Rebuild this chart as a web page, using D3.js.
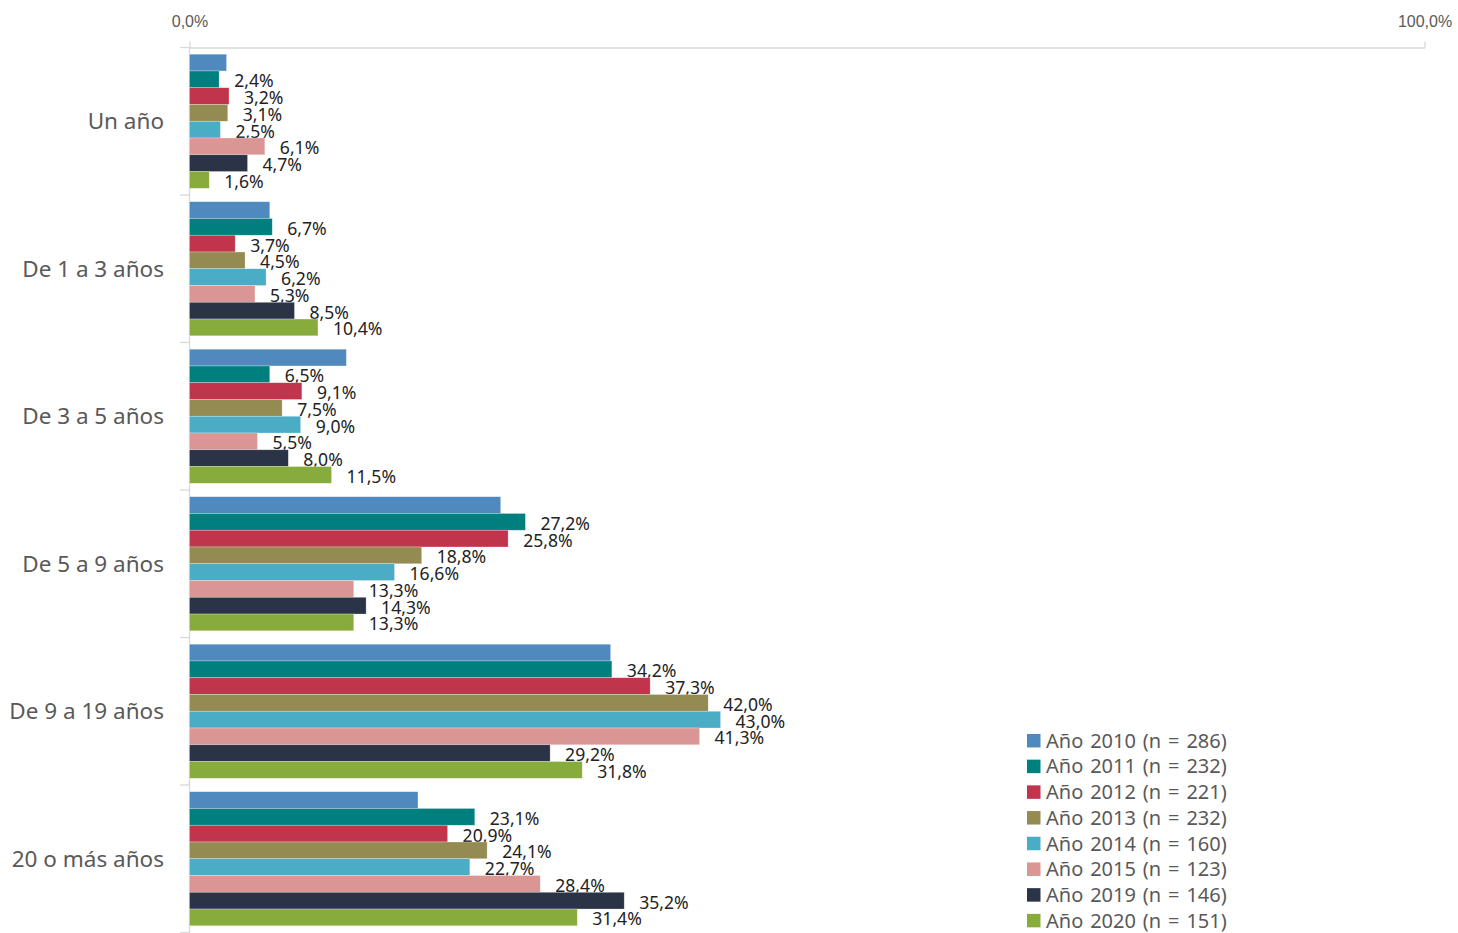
<!DOCTYPE html>
<html>
<head>
<meta charset="utf-8">
<script src="https://cdn.jsdelivr.net/npm/d3@7"></script>
<style>
  body { margin: 0; background: #fff; }
  svg { display: block; font-family: "Noto Sans", "Open Sans", sans-serif; }
</style>
</head>
<body>
<svg id="chart" width="1458" height="933"></svg>
<script>
// Antigüedad: share of respondents per group, by survey year (%)
const categories = ["Un año", "De 1 a 3 años", "De 3 a 5 años", "De 5 a 9 años", "De 9 a 19 años", "20 o más años"];
const seriesNames = [
  "Año 2010 (n = 286)", "Año 2011 (n = 232)", "Año 2012 (n = 221)", "Año 2013 (n = 232)",
  "Año 2014 (n = 160)", "Año 2015 (n = 123)", "Año 2019 (n = 146)", "Año 2020 (n = 151)"
];
const seriesColors = ["#4F89BD", "#007F7F", "#C0354B", "#948B52", "#4BACC6", "#DA9694", "#2B3447", "#88AC3B"];
const values2010 = [3.0, 6.5, 12.7, 25.2, 34.1, 18.5];
const values2011 = [2.4, 6.7, 6.5, 27.2, 34.2, 23.1];
const values2012 = [3.2, 3.7, 9.1, 25.8, 37.3, 20.9];
const values2013 = [3.1, 4.5, 7.5, 18.8, 42.0, 24.1];
const values2014 = [2.5, 6.2, 9.0, 16.6, 43.0, 22.7];
const values2015 = [6.1, 5.3, 5.5, 13.3, 41.3, 28.4];
const values2019 = [4.7, 8.5, 8.0, 14.3, 29.2, 35.2];
const values2020 = [1.6, 10.4, 11.5, 13.3, 31.8, 31.4];
const showLabels = [false, true, true, true, true, true, true, true];
const xTickValues = [0, 100];

const seriesValues = [values2010, values2011, values2012, values2013, values2014, values2015, values2019, values2020];

const series = seriesNames.map((name, i) => ({
  name, color: seriesColors[i], labelled: showLabels[i],
  values: seriesValues[i].map((v, j) => ({ category: categories[j], value: v, index: i }))
}));

const locale = d3.formatLocale({ decimal: ",", thousands: ".", grouping: [3], currency: ["", " €"] });
const pct = v => locale.format(".1f")(v) + "%";

const svg = d3.select("#chart");
const axisColor = "#D9D9D9";
const textGray = "#595959";

const x = d3.scaleLinear().domain([0, 100]).range([189.5, 1424.5]);
const y0 = d3.scaleBand().domain(categories).range([47.5, 932.5]).padding(0);
const y1 = d3.scaleBand().domain(d3.range(seriesNames.length)).range([0, y0.bandwidth()])
  .paddingInner(0).paddingOuter(0.4);

// Value axis along the top
const xAxis = svg.append("g")
  .attr("transform", `translate(0,${y0.range()[0]})`)
  .call(d3.axisTop(x).tickValues(xTickValues).tickFormat(pct).tickSize(6).tickSizeOuter(0).tickPadding(15));
xAxis.select(".domain").attr("stroke", axisColor).attr("stroke-width", 1.3);
xAxis.selectAll(".tick line").attr("stroke", axisColor).attr("stroke-width", 1.3);
xAxis.selectAll(".tick text").attr("fill", textGray).style("font-size", "16px").style("font-family", "inherit");

// Category axis: vertical line with ticks between groups
const catAxis = svg.append("g");
catAxis.append("line")
  .attr("x1", x(0)).attr("x2", x(0))
  .attr("y1", y0.range()[0]).attr("y2", 933)
  .attr("stroke", axisColor).attr("stroke-width", 1.3);
const boundaries = categories.map(c => y0(c)).concat([y0.range()[1]]);
catAxis.selectAll("line.sep").data(boundaries).join("line")
  .attr("class", "sep")
  .attr("x1", x(0) - 9.5).attr("x2", x(0))
  .attr("y1", d => d).attr("y2", d => d)
  .attr("stroke", axisColor).attr("stroke-width", 1.3);
catAxis.selectAll("text").data(categories).join("text")
  .attr("x", x(0) - 25.5)
  .attr("y", d => y0(d) + y0.bandwidth() / 2 + 8)
  .attr("text-anchor", "end")
  .attr("fill", textGray)
  .style("font-size", "22.5px")
  .text(d => d);

// Bars
const groups = svg.append("g").selectAll("g").data(series).join("g")
  .attr("fill", d => d.color);

groups.selectAll("rect").data(d => d.values).join("rect")
  .attr("x", x(0))
  .attr("y", d => y0(d.category) + y1(d.index))
  .attr("width", d => x(d.value) - x(0))
  .attr("height", y1.bandwidth())
  .attr("stroke", "#fff").attr("stroke-opacity", 0.45).attr("stroke-width", 0.6);

// Value labels
groups.filter(d => d.labelled).selectAll("text").data(d => d.values).join("text")
  .attr("x", d => x(d.value) + 15)
  .attr("y", d => y0(d.category) + y1(d.index) + y1.bandwidth() / 2 + 8)
  .attr("fill", "#222")
  .style("font-size", "17.6px")
  .text(d => pct(d.value));

// Legend
const legend = svg.append("g").attr("transform", "translate(1027,740.7)");
const item = legend.selectAll("g").data(series).join("g")
  .attr("transform", (d, i) => `translate(0,${i * 25.7})`);
item.append("rect")
  .attr("x", 0).attr("y", -6.75).attr("width", 13.5).attr("height", 13.5)
  .attr("fill", d => d.color);
item.append("text")
  .attr("x", 19).attr("y", 7)
  .attr("fill", textGray)
  .style("font-size", "20px")
  .style("word-spacing", "1.7px")
  .text(d => d.name);
</script>
</body>
</html>
